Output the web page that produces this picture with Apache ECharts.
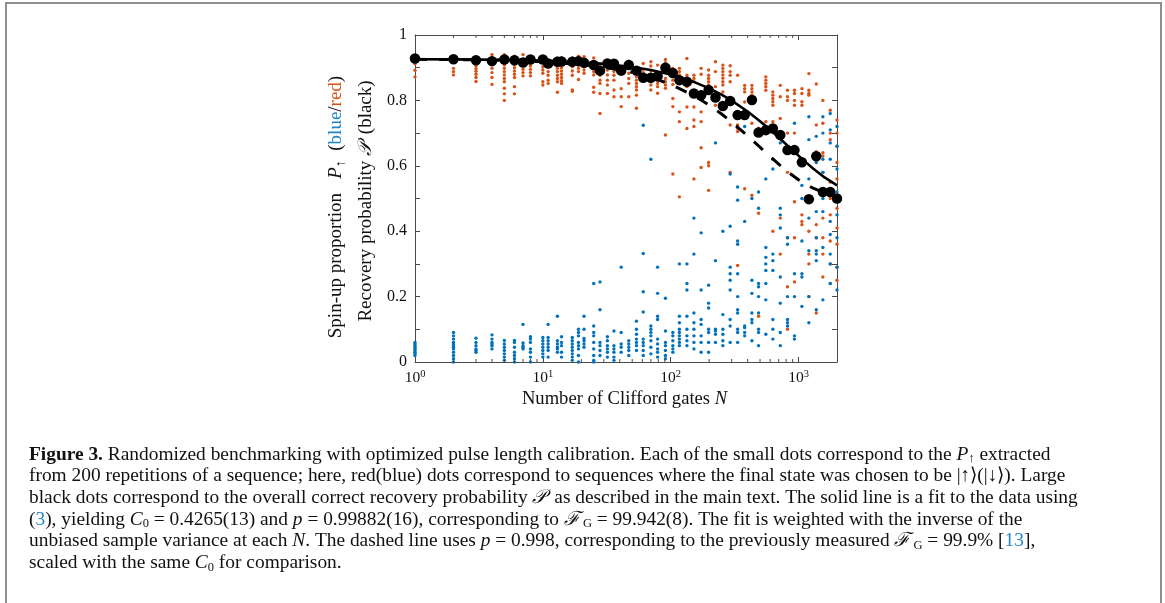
<!DOCTYPE html>
<html><head><meta charset="utf-8">
<script src="https://cdn.jsdelivr.net/npm/echarts@6/dist/echarts.min.js"></script>
<style>html,body{margin:0;padding:0;background:#fff}#c{width:1165px;height:603px}</style>
</head><body><div id="c"></div>
<script>
// ---- data ----
const gateCounts = [1,2,3,4,5,6,7,8,10,11,13,14,17,19,21,25,28,32,36,41,47,54,61,70,79,91,104,117,134,152,173,198,224,256,292,334,379,432,487,555,630,720,820,930,1063,1205,1377,1551,1771,2000];

const recoveryProb = [0.928,0.926,0.923,0.920,0.925,0.923,0.916,0.925,0.925,0.913,0.918,0.919,0.918,0.920,0.915,0.908,0.891,0.913,0.912,0.891,0.908,0.891,0.869,0.869,0.874,0.900,0.884,0.862,0.857,0.821,0.816,0.832,0.809,0.783,0.798,0.755,0.755,0.801,0.702,0.709,0.714,0.694,0.648,0.648,0.611,0.498,0.629,0.520,0.520,0.500];

const redDots = [
 [0.935,0.925,0.912,0.892,0.872],
 [0.932,0.922,0.898,0.888,0.878],
 [0.913,0.905,0.897,0.889,0.880,0.870,0.858],
 [0.940,0.930,0.910,0.898,0.885,0.870,0.849],
 [0.940,0.908,0.898,0.888,0.878,0.867,0.857,0.837,0.820,0.800],
 [0.935,0.920,0.910,0.900,0.890,0.880,0.870,0.842,0.820],
 [0.940,0.915,0.905,0.895,0.885,0.875],
 [0.930,0.918,0.905,0.895,0.885,0.875],
 [0.930,0.903,0.893,0.883,0.857,0.847],
 [0.920,0.903,0.888,0.877,0.862,0.852],
 [0.930,0.908,0.898,0.888,0.877,0.867,0.857,0.825],
 [0.930,0.913,0.900,0.890,0.880,0.870,0.860,0.852],
 [0.930,0.903,0.890,0.877,0.832,0.828],
 [0.935,0.908,0.898,0.888,0.864],
 [0.934,0.913,0.903,0.893,0.883],
 [0.930,0.888,0.878,0.840,0.825],
 [0.910,0.893,0.877,0.862,0.852,0.821,0.760],
 [0.913,0.903,0.893,0.878,0.862,0.847,0.821],
 [0.903,0.888,0.877,0.862,0.832,0.811],
 [0.895,0.885,0.836,0.811,0.781],
 [0.920,0.898,0.883,0.867,0.852,0.811],
 [0.872,0.862,0.852,0.842,0.832,0.816,0.776],
 [0.913,0.895,0.885,0.870],
 [0.918,0.905,0.890,0.867,0.857,0.847,0.832],
 [0.908,0.877,0.862,0.852,0.842,0.822],
 [0.925,0.915,0.905,0.867,0.857,0.847,0.837,0.694],
 [0.898,0.888,0.879,0.862,0.849,0.806,0.781,0.575],
 [0.898,0.888,0.878,0.868,0.855,0.765,0.735,0.505],
 [0.928,0.877,0.842,0.780,0.714],
 [0.877,0.867,0.857,0.780,0.740,0.720,0.560],
 [0.898,0.880,0.826,0.810,0.765,0.735,0.655,0.595],
 [0.893,0.877,0.867,0.857,0.847,0.610,0.600,0.525],
 [0.918,0.888,0.842,0.826,0.816,0.785],
 [0.908,0.898,0.888,0.878,0.868,0.857,0.847,0.826],
 [0.906,0.888,0.877,0.857,0.725,0.580],
 [0.877,0.725,0.715,0.705,0.295],
 [0.846,0.836,0.826,0.795,0.765,0.530],
 [0.846,0.836,0.826,0.816,0.730,0.510],
 [0.715,0.705,0.455,0.140],
 [0.872,0.862,0.852,0.842,0.831,0.735],
 [0.826,0.816,0.806,0.796,0.785,0.735,0.400],
 [0.846,0.811,0.745,0.700,0.440,0.330],
 [0.831,0.811,0.800,0.700,0.580,0.380,0.230,0.100],
 [0.831,0.821,0.800,0.785,0.700,0.490,0.380,0.245],
 [0.836,0.821,0.796,0.785,0.450,0.430,0.420],
 [0.882,0.831,0.821,0.816,0.400,0.330,0.300,0.200],
 [0.850,0.725,0.643,0.420,0.380,0.150],
 [0.800,0.730,0.640,0.630,0.580,0.530,0.440,0.380,0.330,0.260],
 [0.770,0.700,0.680,0.550,0.500,0.450,0.370,0.300,0.240],
 [0.740,0.700,0.660,0.610,0.560,0.470,0.410,0.360,0.290,0.250]
];

const blueDots = [
 [0.020,0.025,0.030,0.035,0.040,0.045,0.050,0.055,0.060],
 [0.000,0.010,0.020,0.030,0.040,0.045,0.050,0.055,0.060,0.070,0.080,0.090],
 [0.073,0.060,0.050,0.040,0.035,0.030],
 [0.083,0.070,0.060,0.055,0.050,0.040],
 [0.066,0.055,0.045,0.035,0.025,0.015,0.005],
 [0.066,0.060,0.045,0.030,0.020,0.010,0.000],
 [0.115,0.058,0.050,0.045,0.040],
 [0.077,0.070,0.060,0.040,0.030,0.015,0.000],
 [0.075,0.065,0.055,0.045,0.035,0.025,0.015],
 [0.115,0.075,0.065,0.055,0.045,0.035,0.015],
 [0.140,0.065,0.055,0.045,0.040,0.030],
 [0.077,0.060,0.050,0.030,0.015],
 [0.075,0.065,0.055,0.045,0.035,0.025,0.015,0.005],
 [0.100,0.090,0.080,0.060,0.050,0.040,0.020,0.000],
 [0.140,0.100,0.072,0.065,0.055,0.045],
 [0.240,0.110,0.090,0.080,0.060,0.040,0.020,0.005,0.000],
 [0.245,0.160,0.060,0.050,0.035,0.020],
 [0.077,0.065,0.050,0.040,0.030,0.015],
 [0.095,0.050,0.040,0.030,0.015,0.005],
 [0.290,0.090,0.055,0.045,0.030],
 [0.065,0.055,0.045,0.035,0.020],
 [0.125,0.100,0.085,0.070,0.060,0.050,0.035],
 [0.724,0.332,0.215,0.153,0.070,0.060,0.050,0.035,0.020],
 [0.620,0.110,0.100,0.090,0.080,0.065,0.045,0.025],
 [0.290,0.210,0.140,0.130,0.070,0.055,0.040,0.030,0.015],
 [0.195,0.095,0.060,0.050,0.035,0.020,0.010],
 [0.090,0.080,0.065,0.050,0.040,0.030],
 [0.300,0.140,0.120,0.100,0.090,0.080,0.070,0.060,0.050],
 [0.300,0.240,0.220,0.140,0.100,0.080,0.065,0.050],
 [0.440,0.330,0.150,0.120,0.100,0.080,0.060,0.040],
 [0.395,0.220,0.130,0.115,0.080,0.060,0.030],
 [0.235,0.180,0.165,0.100,0.090,0.060,0.030],
 [0.670,0.310,0.100,0.095,0.085,0.060],
 [0.400,0.145,0.100,0.085,0.065,0.050],
 [0.575,0.415,0.290,0.270,0.250,0.220,0.130,0.110,0.060],
 [0.535,0.495,0.370,0.360,0.270,0.200,0.160,0.150,0.100,0.090,0.060],
 [0.720,0.430,0.110,0.105,0.090,0.080],
 [0.500,0.250,0.210,0.150,0.130,0.120,0.065],
 [0.520,0.470,0.240,0.230,0.200,0.150,0.100,0.090,0.050],
 [0.560,0.350,0.320,0.300,0.280,0.240,0.190,0.085],
 [0.620,0.590,0.330,0.310,0.280,0.130,0.100,0.070],
 [0.670,0.470,0.450,0.410,0.260,0.180,0.090,0.050],
 [0.380,0.360,0.200,0.130,0.120,0.110],
 [0.730,0.270,0.200,0.080,0.070],
 [0.540,0.500,0.370,0.270,0.260,0.170],
 [0.750,0.680,0.560,0.500,0.440,0.340,0.200,0.120],
 [0.690,0.610,0.460,0.380,0.340,0.330,0.310,0.160],
 [0.750,0.700,0.620,0.580,0.520,0.500,0.460,0.350,0.190],
 [0.760,0.710,0.670,0.620,0.430,0.390,0.330,0.300,0.240],
 [0.720,0.660,0.590,0.520,0.450,0.380,0.290,0.220]
];

// fitted curves read at selected N
const fitN      = [1,2,5,10,20,30,50,70,100,150,200,250,300,400,500,600,700,850,1000,1150,1300,1600,2000];
const fitSolid  = [0.926,0.9255,0.924,0.9215,0.9166,0.9117,0.9021,0.8927,0.879,0.8573,0.8368,0.8175,0.7993,0.766,0.7363,0.71,0.6866,0.6563,0.631,0.6097,0.5919,0.5645,0.5402];
const fitDashed = [0.9256,0.925,0.9225,0.9181,0.9098,0.9016,0.8859,0.8707,0.8491,0.8159,0.7858,0.7585,0.7339,0.6915,0.6567,0.6283,0.605,0.5778,0.5576,0.5427,0.5316,0.5173,0.5078];

const minorTickValues = [2,3,4,5,6,7,8,9,20,30,40,50,60,70,80,90,200,300,400,500,600,700,800,900];
const yTickLabels = {0:'0',2:'0.2',4:'0.4',6:'0.6',8:'0.8',10:'1'};

const captionLines = [
 '{b|Figure 3.} Randomized benchmarking with optimized pulse length calibration. Each of the small dots correspond to the {i|P}{sub|↑} extracted',
 'from 200 repetitions of a sequence; here, red(blue) dots correspond to sequences where the final state was chosen to be |↑⟩(|↓⟩). Large',
 'black dots correspond to the overall correct recovery probability {cal|𝒫} as described in the main text. The solid line is a fit to the data using',
 '({bl|3}), yielding {i|C}{sub|0} = 0.4265(13) and {i|p} = 0.99882(16), corresponding to {cal|ℱ}{sub|G} = 99.942(8). The fit is weighted with the inverse of the',
 'unbiased sample variance at each {i|N}. The dashed line uses {i|p} = 0.998, corresponding to the previously measured {cal|ℱ}{sub|G} = 99.9% [{bl|13}],',
 'scaled with the same {i|C}{sub|0} for comparison.'
];

// ---- chart ----
const serif = 'Liberation Serif';
const RED = '#D95319', BLUE = '#0072BD', LINKBLUE = '#1f86c8', AX = '#4a4a4a';
function flatten(vals){ const out=[]; gateCounts.forEach((n,i)=>vals[i].forEach(v=>out.push([n,v]))); return out; }

const chart = echarts.init(document.getElementById('c'));
const capFont = 19.4;
const capRich = {
  b:{fontWeight:'bold', fontSize:capFont, fontFamily:serif},
  i:{fontStyle:'italic', fontSize:capFont, fontFamily:serif},
  sub:{fontSize:12.5, fontFamily:serif, verticalAlign:'bottom', lineHeight:22},
  cal:{fontSize:capFont, fontFamily:'DejaVu Serif', fontStyle:'italic', padding:[0,3,0,0]},
  bl:{fontSize:capFont, fontFamily:serif, fill:LINKBLUE, color:LINKBLUE}
};
const labFont = 19;
const graphics = [
  {type:'rect', shape:{x:6,y:3,width:1155,height:700}, style:{fill:'none', stroke:'#8f8f8f', lineWidth:2}, silent:true},
  {type:'text', x:336, y:207, rotation:Math.PI/2, style:{
    text:'Spin-up proportion   {i|P}{sub|↑}  ({b|blue}/{r|red})', fontSize:labFont, fontFamily:serif, fill:'#111',
    align:'center', verticalAlign:'middle',
    rich:{i:{fontStyle:'italic',fontSize:labFont,fontFamily:serif}, sub:{fontSize:14,fontFamily:serif,verticalAlign:'bottom',lineHeight:24},
          b:{fill:LINKBLUE,color:LINKBLUE,fontSize:labFont,fontFamily:serif}, r:{fill:RED,color:RED,fontSize:labFont,fontFamily:serif}}}},
  {type:'text', x:366, y:201, rotation:Math.PI/2, style:{
    text:'Recovery probability {cal|𝒫} (black)', fontSize:labFont, fontFamily:serif, fill:'#111',
    align:'center', verticalAlign:'middle',
    rich:{cal:{fontSize:labFont,fontFamily:'DejaVu Serif',fontStyle:'italic',padding:[0,3,0,0]}}}},
  {type:'text', x:624.5, y:399, style:{
    text:'Number of Clifford gates {i|N}', fontSize:18.6, fontFamily:serif, fill:'#111',
    align:'center', verticalAlign:'middle',
    rich:{i:{fontStyle:'italic',fontSize:18.6,fontFamily:serif}}}}
];
captionLines.forEach((t,k)=>{
  graphics.push({type:'text', x:29, y:454.5+21.7*k, style:{text:t, fontSize:capFont, fontFamily:serif, fill:'#111', align:'left', verticalAlign:'middle', rich:capRich}});
});

const axisCommonX = {
  type:'log', logBase:10, min:1, max:2000, gridIndex:0,
  axisLine:{show:true, onZero:false, lineStyle:{color:AX, width:1}},
  axisTick:{show:true, inside:true, length:5, lineStyle:{color:AX, width:1}},
  splitLine:{show:false}, minorTick:{show:false}
};
const axisCommonY = {
  type:'value', min:0, max:1, interval:0.1,
  axisLine:{show:true, onZero:false, lineStyle:{color:AX, width:1}},
  axisTick:{show:true, inside:true, length:5, lineStyle:{color:AX, width:1}},
  splitLine:{show:false}
};

chart.setOption({
  animation:false,
  textStyle:{fontFamily:serif},
  grid:{left:415, top:35, width:422, height:327, containLabel:false},
  xAxis:[
    Object.assign({}, axisCommonX, {position:'bottom',
      axisLabel:{show:true, margin:7, showMaxLabel:false, color:'#111', fontFamily:serif,
        formatter:v=>'{n|10}{s|'+Math.round(Math.log10(v))+'}',
        rich:{n:{fontSize:15.5, fontFamily:serif, color:'#111', lineHeight:18}, s:{fontSize:10.5, fontFamily:serif, color:'#111', verticalAlign:'top', lineHeight:18}}}}),
    Object.assign({}, axisCommonX, {position:'top', axisLabel:{show:false}})
  ],
  yAxis:[
    Object.assign({}, axisCommonY, {position:'left',
      axisLabel:{show:true, margin:8, fontSize:16, color:'#111', fontFamily:serif,
        formatter:v=>{const k=Math.round(v*10); return yTickLabels[k]!==undefined?yTickLabels[k]:'';}}}),
    Object.assign({}, axisCommonY, {position:'right', axisLabel:{show:false}})
  ],
  graphic:graphics,
  series:[
    {type:'custom', coordinateSystem:'cartesian2d', xAxisIndex:0, yAxisIndex:0, silent:true, clip:false, z:5,
      data:minorTickValues.map(v=>[v,0]),
      renderItem:(params,api)=>{
        const v=api.value(0); const b=api.coord([v,0]); const t=api.coord([v,1]);
        return {type:'group', children:[
          {type:'line', shape:{x1:b[0],y1:b[1],x2:b[0],y2:b[1]-3}, style:{stroke:AX,lineWidth:1}},
          {type:'line', shape:{x1:t[0],y1:t[1],x2:t[0],y2:t[1]+3}, style:{stroke:AX,lineWidth:1}}
        ]};
      }},
    {name:'red', type:'scatter', data:flatten(redDots), symbol:'circle', symbolSize:3.4, itemStyle:{color:RED, opacity:1}, z:2, silent:true},
    {name:'blue', type:'scatter', data:flatten(blueDots), symbol:'circle', symbolSize:3.4, itemStyle:{color:BLUE, opacity:1}, z:3, silent:true},
    {name:'dashed', type:'line', data:fitN.map((n,i)=>[n,fitDashed[i]]), showSymbol:false, symbol:'none',
      lineStyle:{color:'#000', width:3, type:[12,12]}, z:4, silent:true},
    {name:'fit', type:'line', data:fitN.map((n,i)=>[n,fitSolid[i]]), showSymbol:false, symbol:'none',
      lineStyle:{color:'#000', width:2.6}, z:4, silent:true},
    {name:'P', type:'scatter', data:gateCounts.map((n,i)=>[n,recoveryProb[i]]), symbol:'circle', symbolSize:10.5,
      itemStyle:{color:'#000', opacity:1}, z:6, silent:true}
  ]
});
</script></body></html>
